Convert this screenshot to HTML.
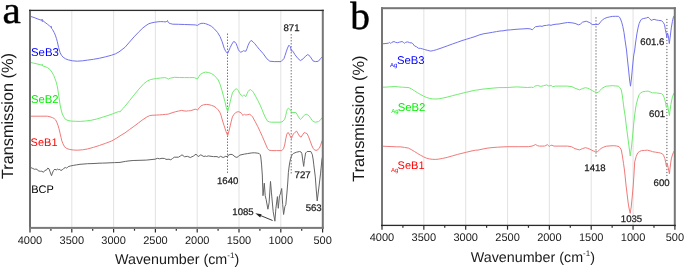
<!DOCTYPE html>
<html><head><meta charset="utf-8"><style>
html,body{margin:0;padding:0;background:#fff;}
svg{display:block;will-change:transform;text-rendering:geometricPrecision;}

</style></head><body>
<svg width="685" height="268" viewBox="0 0 685 268" font-family="Liberation Sans, sans-serif" fill="#1a1a1a">
<rect width="685" height="268" fill="#fff"/>
<line x1="71.80" y1="10.3" x2="71.80" y2="227.8" stroke="#e4e4e4" stroke-width="1.1"/>
<line x1="113.60" y1="10.3" x2="113.60" y2="227.8" stroke="#e4e4e4" stroke-width="1.1"/>
<line x1="155.40" y1="10.3" x2="155.40" y2="227.8" stroke="#e4e4e4" stroke-width="1.1"/>
<line x1="197.20" y1="10.3" x2="197.20" y2="227.8" stroke="#e4e4e4" stroke-width="1.1"/>
<line x1="239.00" y1="10.3" x2="239.00" y2="227.8" stroke="#e4e4e4" stroke-width="1.1"/>
<line x1="280.80" y1="10.3" x2="280.80" y2="227.8" stroke="#e4e4e4" stroke-width="1.1"/>
<g stroke="#555" stroke-width="1" stroke-dasharray="1.2,1.8">
<line x1="227.5" y1="33.6" x2="227.5" y2="174"/>
<line x1="291.2" y1="34.2" x2="291.2" y2="174.5"/>
</g>
<path d="M30.3,16.3 L34.0,17.5 L37.0,18.7 L40.0,19.8 L41.8,20.3 L42.1,19.2 L42.4,21.6 L42.8,20.6 L45.0,22.4 L47.4,24.2 L49.5,25.9 L51.0,27.2 L51.3,26.4 L51.6,28.4 L52.6,29.7 L54.1,32.4 L55.3,35.1 L56.4,38.4 L57.3,41.6 L58.6,47.5 L60.1,52.7 L61.5,55.3 L63.1,57.2 L65.5,58.8 L68.3,59.9 L72.5,60.8 L77.3,61.2 L82.5,60.8 L87.7,60.1 L93.5,59.3 L99.6,58.2 L105.6,56.8 L111.6,55.2 L115.5,53.8 L119.0,51.9 L122.0,49.6 L125.0,47.3 L129.5,42.1 L134.0,36.9 L138.5,32.2 L142.9,27.9 L145.9,25.6 L148.9,23.7 L151.9,22.8 L154.9,22.2 L157.9,21.8 L160.8,21.6 L163.5,21.7 L166.0,21.9 L166.8,21.3 L167.5,20.5 L168.1,22.2 L169.0,23.1 L170.8,23.7 L172.8,24.2 L178.7,24.3 L184.7,24.5 L190.0,24.7 L195.1,24.9 L197.4,25.4 L199.2,24.2 L201.1,23.4 L203.4,23.3 L205.6,23.7 L208.6,24.8 L211.6,26.4 L214.6,29.1 L217.5,32.4 L220.0,36.5 L222.0,41.3 L224.2,48.2 L225.8,51.6 L227.7,53.4 L230.2,47.5 L231.9,44.1 L233.6,41.5 L235.0,42.1 L236.2,43.7 L237.3,46.6 L238.4,49.7 L239.6,51.4 L240.7,52.2 L242.2,51.6 L243.6,50.7 L244.7,51.1 L245.9,51.2 L247.0,48.6 L248.1,45.2 L249.6,42.2 L251.1,40.4 L253.0,41.8 L254.8,43.7 L257.0,46.5 L259.3,49.3 L263.0,53.4 L266.8,58.7 L269.8,61.2 L274.2,61.6 L281.0,61.6 L283.9,58.7 L285.1,55.3 L286.2,51.9 L287.5,48.1 L288.9,45.2 L290.4,46.7 L291.4,51.2 L292.1,50.6 L292.9,51.2 L295.1,54.9 L298.1,58.7 L300.4,60.6 L303.3,58.7 L305.5,56.2 L307.8,54.5 L310.1,56.4 L313.0,60.9 L315.3,61.6 L318.3,61.3 L320.5,58.7 L322.4,56.8" fill="none" stroke="#7272ee" stroke-width="1"/>
<path d="M30.2,62.4 L33.5,63.1 L37.0,63.9 L40.0,64.7 L42.0,65.2 L42.3,64.3 L42.6,65.9 L45.0,66.6 L47.4,67.6 L49.8,69.3 L51.9,72.1 L53.8,75.6 L54.9,78.5 L56.0,81.4 L57.1,85.5 L57.9,89.9 L59.0,97.4 L60.1,104.9 L61.2,110.0 L62.3,114.0 L63.8,116.9 L65.3,119.2 L68.0,120.5 L71.3,121.1 L75.7,121.3 L80.2,121.4 L85.5,121.0 L90.7,120.4 L96.7,119.0 L102.6,117.2 L108.0,115.5 L113.1,113.7 L116.0,112.5 L118.3,111.7 L119.2,111.3 L119.8,112.2 L121.3,110.2 L123.2,108.4 L125.0,106.2 L129.8,100.3 L134.7,94.2 L139.0,89.0 L143.9,83.6 L147.2,81.1 L150.4,79.6 L153.4,79.0 L156.3,78.5 L160.5,78.0 L164.6,77.6 L166.4,78.0 L168.3,79.1 L170.5,78.1 L174.3,77.3 L179.5,77.5 L184.7,77.6 L189.5,77.6 L194.4,77.6 L197.4,79.1 L199.0,76.4 L200.4,74.3 L203.0,72.9 L205.6,72.1 L208.6,72.5 L211.6,73.6 L214.0,75.2 L216.0,77.3 L218.3,80.0 L220.2,84.6 L222.0,90.7 L223.5,96.3 L225.0,101.9 L226.3,107.5 L227.7,111.4 L229.0,107.0 L230.2,101.9 L231.3,97.2 L232.4,92.9 L234.2,90.3 L236.2,88.7 L237.3,89.4 L238.4,90.7 L239.9,93.7 L241.2,95.2 L242.6,96.2 L243.5,95.3 L244.4,95.1 L245.2,96.3 L245.9,96.6 L247.0,93.8 L248.1,91.4 L249.2,90.2 L250.4,89.6 L251.8,90.5 L253.3,92.2 L255.5,96.1 L257.8,100.4 L260.1,105.0 L262.0,109.5 L263.8,114.0 L265.6,117.8 L267.5,121.1 L269.4,121.9 L271.3,122.2 L276.0,122.2 L281.0,122.2 L283.0,121.2 L284.7,119.2 L285.7,115.7 L286.5,111.7 L287.4,109.3 L288.4,108.0 L289.4,108.8 L290.4,110.2 L291.2,111.5 L292.1,112.5 L294.0,112.5 L295.9,112.5 L297.0,114.2 L298.1,116.2 L299.2,118.0 L300.4,119.5 L301.8,118.2 L303.3,116.2 L304.8,114.9 L306.3,114.3 L307.8,114.9 L309.3,116.2 L310.8,118.4 L312.3,120.7 L313.8,121.7 L315.3,122.2 L318.3,121.7 L320.3,120.2 L322.2,117.5" fill="none" stroke="#72ec72" stroke-width="1"/>
<path d="M30.5,116.2 L35.0,116.2 L40.0,116.2 L47.4,116.2 L50.0,116.8 L52.6,117.7 L54.2,118.6 L55.6,119.9 L56.8,122.2 L57.9,125.1 L59.0,128.8 L60.1,133.4 L61.0,137.4 L61.8,140.8 L63.0,143.8 L64.6,146.9 L66.8,148.5 L69.8,149.5 L73.5,150.0 L77.3,150.2 L82.5,149.8 L87.7,148.9 L93.6,147.3 L99.6,145.4 L105.6,143.3 L111.6,141.0 L116.8,138.0 L122.0,134.6 L125.0,132.9 L129.5,129.5 L134.0,126.3 L138.5,122.9 L142.9,119.6 L146.2,117.4 L149.6,115.6 L152.9,115.2 L156.3,115.1 L159.3,114.9 L162.3,114.7 L165.3,114.4 L168.3,114.1 L172.0,112.8 L175.7,111.7 L178.7,111.0 L181.7,110.4 L184.0,110.9 L186.2,111.1 L188.5,110.8 L190.7,110.7 L193.0,109.9 L195.1,109.2 L196.3,109.4 L197.4,110.2 L199.2,107.8 L201.1,105.7 L203.7,104.8 L206.3,104.4 L209.0,104.7 L211.6,105.4 L214.0,106.3 L216.0,107.7 L218.0,109.7 L219.8,112.2 L221.0,115.2 L222.0,118.9 L223.0,122.2 L224.2,125.9 L226.0,131.5 L227.7,135.5 L229.0,131.0 L230.2,125.9 L231.3,121.2 L232.4,116.9 L233.9,114.5 L235.4,112.8 L236.9,112.0 L238.4,111.7 L240.0,112.2 L241.4,113.2 L242.2,114.3 L242.9,115.5 L243.6,114.6 L244.4,114.0 L245.2,114.8 L245.9,115.1 L247.8,114.6 L249.6,114.3 L251.1,115.3 L252.6,116.9 L255.2,121.6 L257.8,126.6 L260.0,131.3 L262.3,136.3 L264.2,140.8 L266.0,145.0 L267.5,148.5 L269.0,150.2 L271.9,150.6 L276.5,150.6 L281.8,150.6 L283.5,148.8 L284.7,145.0 L285.8,138.5 L286.9,134.1 L287.6,132.8 L288.4,132.6 L289.9,135.6 L291.4,138.6 L292.3,136.5 L293.3,134.1 L295.0,132.3 L296.6,131.1 L298.1,133.6 L299.6,136.3 L301.1,137.1 L302.6,134.8 L304.1,132.6 L305.6,133.0 L307.1,133.7 L308.6,136.8 L310.1,140.8 L311.6,145.0 L313.2,148.6 L315.0,150.2 L317.0,150.3 L319.3,148.3 L320.6,145.3 L322.1,140.5" fill="none" stroke="#f07a7a" stroke-width="1"/>
<path d="M30.2,167.3 L32.2,168.2 L34.5,169.3 L35.8,169.1 L37.1,169.3 L38.2,170.8 L40.4,171.3 L41.9,171.2 L43.4,172.3 L44.9,170.4 L46.4,170.1 L47.8,168.1 L49.0,168.8 L50.1,171.9 L51.5,175.7 L52.4,173.1 L53.5,170.4 L55.0,169.1 L56.1,170.1 L57.6,169.1 L58.7,169.7 L59.9,169.3 L60.6,170.4 L62.1,170.1 L64.0,168.2 L65.4,167.5 L66.6,168.2 L68.1,166.7 L70.3,166.0 L73.3,165.4 L76.3,164.9 L80.0,164.3 L84.0,164.0 L87.7,163.7 L92.0,163.6 L96.0,163.4 L99.0,163.2 L102.6,163.1 L106.0,163.0 L110.0,162.8 L114.6,162.6 L120.0,162.4 L125.3,161.4 L129.0,160.9 L133.1,160.5 L140.0,160.3 L146.3,160.1 L151.0,159.6 L155.0,159.2 L157.7,158.3 L159.4,158.8 L162.0,158.3 L164.7,158.5 L166.0,159.4 L169.0,159.2 L170.8,159.8 L172.5,158.5 L174.3,157.2 L178.5,157.2 L180.3,156.0 L182.0,154.8 L184.6,156.8 L187.3,156.3 L190.3,157.5 L193.4,156.1 L196.0,154.1 L198.2,156.6 L200.8,154.8 L203.9,156.6 L205.2,156.0 L206.5,156.5 L208.2,155.9 L210.0,156.2 L213.5,156.6 L217.0,156.6 L218.8,157.5 L220.5,156.3 L223.2,157.5 L225.8,156.3 L227.5,156.8 L228.4,155.0 L231.0,154.3 L232.8,154.8 L235.0,156.8 L236.9,157.4 L238.4,156.4 L239.9,155.1 L242.0,154.6 L244.4,154.1 L247.4,153.6 L251.9,152.9 L254.8,152.8 L257.8,153.2 L259.3,153.6 L260.1,154.4 L260.8,157.0 L261.6,164.9 L262.3,175.0 L263.0,195.7 L264.3,183.2 L265.2,195.7 L266.1,199.3 L267.9,209.2 L269.1,202.9 L270.5,181.4 L271.4,192.1 L273.2,211.8 L274.9,221.2 L275.9,208.3 L277.4,196.6 L278.3,208.3 L279.5,195.7 L280.4,193.9 L281.7,188.5 L282.7,204.7 L283.6,214.5 L284.9,206.5 L285.8,204.7 L287.0,192.0 L287.8,182.0 L288.4,172.4 L289.2,166.0 L289.9,161.9 L290.6,158.5 L291.4,156.0 L292.5,154.3 L293.7,153.3 L296.6,152.2 L299.6,151.5 L301.1,152.0 L301.9,153.7 L302.6,159.0 L303.7,166.4 L304.4,160.4 L305.6,153.0 L307.1,151.5 L310.8,151.5 L312.3,154.5 L313.1,159.0 L313.8,164.9 L315.3,176.9 L316.2,189.0 L317.2,201.0 L318.2,193.0 L319.3,184.0 L320.5,173.9 L322.0,159.0 L322.8,156.0" fill="none" stroke="#656565" stroke-width="1"/>
<rect x="29" y="9.7" width="2" height="219.2" fill="#6e6e6e"/>
<rect x="321.8" y="9.7" width="2" height="219.2" fill="#767676"/>
<rect x="29" y="226.9" width="294.8" height="2" fill="#7a7a7a"/>
<rect x="29" y="9.75" width="294.8" height="1.3" fill="#2e2e2e"/>
<line x1="30.00" y1="228.9" x2="30.00" y2="232.5" stroke="#2a2a2a" stroke-width="1.2"/>
<text x="30.00" y="243.9" text-anchor="middle" font-size="11">4000</text>
<line x1="50.90" y1="228.9" x2="50.90" y2="230.70000000000002" stroke="#2a2a2a" stroke-width="1.2"/>
<line x1="71.80" y1="228.9" x2="71.80" y2="232.5" stroke="#2a2a2a" stroke-width="1.2"/>
<text x="71.80" y="243.9" text-anchor="middle" font-size="11">3500</text>
<line x1="92.70" y1="228.9" x2="92.70" y2="230.70000000000002" stroke="#2a2a2a" stroke-width="1.2"/>
<line x1="113.60" y1="228.9" x2="113.60" y2="232.5" stroke="#2a2a2a" stroke-width="1.2"/>
<text x="113.60" y="243.9" text-anchor="middle" font-size="11">3000</text>
<line x1="134.50" y1="228.9" x2="134.50" y2="230.70000000000002" stroke="#2a2a2a" stroke-width="1.2"/>
<line x1="155.40" y1="228.9" x2="155.40" y2="232.5" stroke="#2a2a2a" stroke-width="1.2"/>
<text x="155.40" y="243.9" text-anchor="middle" font-size="11">2500</text>
<line x1="176.30" y1="228.9" x2="176.30" y2="230.70000000000002" stroke="#2a2a2a" stroke-width="1.2"/>
<line x1="197.20" y1="228.9" x2="197.20" y2="232.5" stroke="#2a2a2a" stroke-width="1.2"/>
<text x="197.20" y="243.9" text-anchor="middle" font-size="11">2000</text>
<line x1="218.10" y1="228.9" x2="218.10" y2="230.70000000000002" stroke="#2a2a2a" stroke-width="1.2"/>
<line x1="239.00" y1="228.9" x2="239.00" y2="232.5" stroke="#2a2a2a" stroke-width="1.2"/>
<text x="239.00" y="243.9" text-anchor="middle" font-size="11">1500</text>
<line x1="259.90" y1="228.9" x2="259.90" y2="230.70000000000002" stroke="#2a2a2a" stroke-width="1.2"/>
<line x1="280.80" y1="228.9" x2="280.80" y2="232.5" stroke="#2a2a2a" stroke-width="1.2"/>
<text x="280.80" y="243.9" text-anchor="middle" font-size="11">1000</text>
<line x1="301.70" y1="228.9" x2="301.70" y2="230.70000000000002" stroke="#2a2a2a" stroke-width="1.2"/>
<line x1="322.60" y1="228.9" x2="322.60" y2="232.5" stroke="#2a2a2a" stroke-width="1.2"/>
<text x="322.60" y="243.9" text-anchor="middle" font-size="11">500</text>
<line x1="423.84" y1="8.1" x2="423.84" y2="225.4" stroke="#e4e4e4" stroke-width="1.1"/>
<line x1="465.69" y1="8.1" x2="465.69" y2="225.4" stroke="#e4e4e4" stroke-width="1.1"/>
<line x1="507.53" y1="8.1" x2="507.53" y2="225.4" stroke="#e4e4e4" stroke-width="1.1"/>
<line x1="549.37" y1="8.1" x2="549.37" y2="225.4" stroke="#e4e4e4" stroke-width="1.1"/>
<line x1="591.21" y1="8.1" x2="591.21" y2="225.4" stroke="#e4e4e4" stroke-width="1.1"/>
<line x1="633.06" y1="8.1" x2="633.06" y2="225.4" stroke="#e4e4e4" stroke-width="1.1"/>
<g stroke="#555" stroke-width="1" stroke-dasharray="1.2,1.8">
<line x1="596.0" y1="17.3" x2="596.0" y2="156.8"/>
<line x1="666.9" y1="18.9" x2="666.9" y2="178.3"/>
</g>
<path d="M382.4,43.8 L385.0,43.6 L388.4,43.2 L389.6,42.3 L390.7,43.5 L391.9,42.3 L394.0,41.5 L395.5,42.3 L397.3,42.7 L399.7,42.1 L402.1,41.5 L403.3,42.3 L404.5,43.3 L405.7,42.3 L407.5,41.9 L409.3,42.4 L409.9,43.1 L411.0,42.6 L412.8,43.6 L414.6,46.0 L416.4,46.7 L418.5,48.3 L420.3,48.3 L422.5,48.9 L424.8,49.6 L427.8,50.4 L430.7,51.1 L433.7,50.5 L436.7,49.6 L442.0,47.8 L447.2,45.9 L452.4,44.0 L457.6,42.2 L462.0,40.6 L466.6,39.2 L470.3,38.0 L474.0,36.9 L477.0,35.8 L480.0,34.7 L484.0,33.7 L488.0,33.1 L492.5,32.3 L496.5,31.6 L500.0,31.0 L503.0,30.8 L507.0,30.1 L510.2,29.9 L514.0,29.5 L519.0,29.1 L523.0,28.9 L527.0,28.6 L530.0,28.8 L532.4,29.8 L533.5,28.5 L535.5,26.7 L538.0,26.4 L540.0,26.0 L542.0,26.4 L544.0,25.6 L546.5,25.4 L549.0,24.9 L551.0,25.3 L553.0,24.7 L556.0,24.2 L559.0,24.0 L562.0,23.4 L565.0,22.9 L567.6,22.5 L570.0,22.6 L573.0,23.0 L575.0,23.4 L578.7,24.9 L580.5,24.0 L582.5,22.2 L586.2,21.2 L589.9,22.7 L592.2,24.5 L595.9,24.6 L598.9,24.2 L600.7,21.8 L602.6,19.7 L604.8,18.4 L607.1,17.5 L609.7,16.9 L612.3,16.4 L615.3,16.3 L618.3,16.3 L619.5,17.2 L620.5,19.0 L621.7,22.2 L622.8,26.4 L624.0,32.5 L625.0,39.9 L626.5,50.0 L627.5,60.0 L628.6,70.0 L629.6,80.0 L630.5,86.2 L631.5,78.0 L632.5,67.0 L633.6,56.0 L634.7,50.0 L635.7,42.0 L636.9,33.9 L638.0,28.0 L639.2,23.4 L640.3,21.0 L641.4,19.3 L643.2,18.6 L645.1,18.2 L646.6,17.9 L648.1,17.2 L649.6,18.5 L651.1,20.4 L652.6,19.8 L654.1,19.3 L656.3,20.0 L658.6,20.4 L661.6,20.7 L663.3,22.5 L664.6,24.9 L665.3,29.4 L666.3,33.9 L666.8,37.2 L667.5,33.0 L668.3,35.6 L668.9,40.0 L669.3,43.6 L670.3,36.0 L671.3,27.9 L672.4,21.5 L673.5,16.7 L674.6,15.3" fill="none" stroke="#7272ee" stroke-width="1"/>
<path d="M382.8,87.2 L386.0,87.1 L389.0,86.9 L392.0,86.7 L394.9,86.5 L398.5,86.9 L402.4,87.2 L406.0,87.4 L409.1,87.7 L411.7,89.0 L414.3,90.7 L417.3,92.6 L420.3,94.4 L423.3,96.0 L426.3,97.4 L429.3,98.3 L432.2,98.9 L435.2,99.0 L438.2,98.9 L442.7,98.1 L447.2,97.1 L452.4,95.7 L457.6,94.4 L462.0,93.3 L466.6,92.2 L471.0,91.1 L475.5,90.2 L478.0,89.9 L482.0,89.2 L487.0,88.7 L493.0,88.1 L498.9,87.6 L503.0,87.6 L507.9,87.5 L512.0,87.2 L516.8,86.9 L522.0,87.2 L527.3,87.5 L531.7,87.2 L533.2,87.6 L534.7,86.1 L537.7,85.5 L540.7,86.4 L543.7,85.7 L546.7,84.9 L548.9,86.1 L551.1,85.4 L552.6,86.7 L555.6,86.1 L561.0,86.1 L567.6,86.1 L572.0,86.7 L575.0,88.2 L579.5,89.9 L582.5,88.6 L585.4,87.7 L587.7,88.2 L589.9,89.2 L592.2,90.6 L594.4,91.7 L596.3,92.3 L598.1,92.6 L600.0,90.5 L601.9,88.4 L604.0,87.2 L606.3,86.2 L609.3,85.9 L612.3,85.7 L615.3,85.9 L618.3,86.2 L619.8,87.5 L621.3,89.9 L622.4,96.0 L623.5,104.9 L624.2,110.0 L625.0,115.0 L626.2,125.0 L627.5,135.0 L628.8,145.0 L630.2,155.9 L631.5,147.0 L632.7,135.0 L633.7,124.0 L634.7,115.0 L635.5,109.0 L636.2,104.9 L637.7,99.0 L639.2,94.4 L641.0,92.7 L642.9,91.7 L645.5,91.3 L648.1,91.1 L650.3,92.0 L652.6,92.9 L656.3,92.9 L659.0,93.3 L661.6,93.7 L663.2,95.2 L664.2,97.7 L665.0,100.5 L665.7,103.7 L666.4,107.4 L667.5,104.4 L668.2,108.9 L669.4,115.6 L670.1,110.0 L670.9,104.4 L672.4,96.9 L673.9,93.2 L674.8,92.3" fill="none" stroke="#72ec72" stroke-width="1"/>
<path d="M382.8,146.2 L387.0,146.4 L391.9,146.6 L396.5,146.8 L400.9,146.9 L404.5,147.4 L408.4,148.1 L411.3,149.6 L414.3,151.4 L417.3,153.3 L420.3,155.1 L423.3,156.7 L426.3,158.1 L429.3,158.9 L432.2,159.3 L435.2,159.4 L438.2,159.2 L442.7,158.4 L447.2,157.4 L452.4,155.9 L457.6,154.4 L462.0,153.3 L466.6,152.2 L471.0,151.1 L475.5,150.2 L478.0,150.1 L482.0,149.2 L487.0,148.2 L492.0,147.6 L497.4,147.2 L503.0,146.9 L507.9,146.7 L513.0,146.7 L518.3,146.7 L523.0,146.7 L528.7,146.7 L531.0,146.3 L533.2,145.7 L535.5,144.5 L537.3,145.6 L539.2,146.1 L542.0,146.1 L544.4,146.1 L546.0,145.5 L547.4,144.5 L548.3,145.6 L549.3,146.4 L550.6,145.5 L551.9,145.2 L553.0,145.8 L554.1,146.1 L560.0,146.1 L567.6,146.1 L571.3,146.7 L573.2,147.6 L575.0,148.7 L579.5,149.9 L582.5,148.6 L585.4,147.7 L587.7,148.3 L589.9,149.2 L591.8,150.2 L593.7,151.1 L595.5,151.6 L597.4,151.7 L599.3,150.0 L601.1,148.4 L603.7,147.1 L606.3,146.2 L610.0,145.9 L613.8,145.7 L616.5,146.0 L619.0,146.6 L620.2,148.0 L621.3,149.9 L622.4,156.0 L623.5,163.4 L624.3,169.0 L625.0,175.0 L626.0,185.0 L627.1,194.0 L628.2,203.0 L629.2,209.0 L630.2,213.3 L631.2,207.0 L632.2,197.0 L633.2,186.0 L634.0,174.0 L634.7,161.9 L636.2,156.5 L637.7,152.9 L639.5,151.5 L641.4,150.7 L644.4,150.4 L647.4,150.2 L650.0,150.8 L652.6,151.7 L655.6,152.2 L658.6,152.6 L660.5,153.1 L662.3,153.7 L663.5,155.2 L664.9,158.7 L665.7,162.5 L666.4,166.1 L667.2,163.6 L668.2,167.6 L669.4,173.8 L670.3,166.0 L671.3,158.9 L672.4,155.0 L673.5,152.2 L674.6,150.4" fill="none" stroke="#f07a7a" stroke-width="1"/>
<rect x="381" y="7.2" width="2" height="219" fill="#767676"/>
<rect x="673.8" y="7.2" width="2" height="219" fill="#767676"/>
<rect x="381" y="7.2" width="294.8" height="2" fill="#767676"/>
<rect x="381" y="224.75" width="294.8" height="1.3" fill="#2a2a2a"/>
<line x1="382.00" y1="226" x2="382.00" y2="229.7" stroke="#2a2a2a" stroke-width="1.2"/>
<text x="382.00" y="241.3" text-anchor="middle" font-size="11">4000</text>
<line x1="402.92" y1="226" x2="402.92" y2="227.8" stroke="#2a2a2a" stroke-width="1.2"/>
<line x1="423.84" y1="226" x2="423.84" y2="229.7" stroke="#2a2a2a" stroke-width="1.2"/>
<text x="423.84" y="241.3" text-anchor="middle" font-size="11">3500</text>
<line x1="444.76" y1="226" x2="444.76" y2="227.8" stroke="#2a2a2a" stroke-width="1.2"/>
<line x1="465.69" y1="226" x2="465.69" y2="229.7" stroke="#2a2a2a" stroke-width="1.2"/>
<text x="465.69" y="241.3" text-anchor="middle" font-size="11">3000</text>
<line x1="486.61" y1="226" x2="486.61" y2="227.8" stroke="#2a2a2a" stroke-width="1.2"/>
<line x1="507.53" y1="226" x2="507.53" y2="229.7" stroke="#2a2a2a" stroke-width="1.2"/>
<text x="507.53" y="241.3" text-anchor="middle" font-size="11">2500</text>
<line x1="528.45" y1="226" x2="528.45" y2="227.8" stroke="#2a2a2a" stroke-width="1.2"/>
<line x1="549.37" y1="226" x2="549.37" y2="229.7" stroke="#2a2a2a" stroke-width="1.2"/>
<text x="549.37" y="241.3" text-anchor="middle" font-size="11">2000</text>
<line x1="570.29" y1="226" x2="570.29" y2="227.8" stroke="#2a2a2a" stroke-width="1.2"/>
<line x1="591.21" y1="226" x2="591.21" y2="229.7" stroke="#2a2a2a" stroke-width="1.2"/>
<text x="591.21" y="241.3" text-anchor="middle" font-size="11">1500</text>
<line x1="612.14" y1="226" x2="612.14" y2="227.8" stroke="#2a2a2a" stroke-width="1.2"/>
<line x1="633.06" y1="226" x2="633.06" y2="229.7" stroke="#2a2a2a" stroke-width="1.2"/>
<text x="633.06" y="241.3" text-anchor="middle" font-size="11">1000</text>
<line x1="653.98" y1="226" x2="653.98" y2="227.8" stroke="#2a2a2a" stroke-width="1.2"/>
<line x1="674.90" y1="226" x2="674.90" y2="229.7" stroke="#2a2a2a" stroke-width="1.2"/>
<text x="674.90" y="241.3" text-anchor="middle" font-size="11">500</text>
<g font-size="11">
<text x="31" y="55.7" fill="#0000ff" font-size="11.4">SeB3</text>
<text x="31" y="102.8" fill="#00f000" font-size="11.3">SeB2</text>
<text x="30.6" y="145.7" fill="#ff0000">SeB1</text>
<text x="31.2" y="192.7" fill="#000">BCP</text>
</g>
<g font-size="9.6" fill="#222" stroke="#222" stroke-width="0.25">
<text x="283.5" y="31.4">871</text>
<text x="217" y="184.3">1640</text>
<text x="294.6" y="177.8">727</text>
<text x="232.3" y="214.9">1085</text>
<text x="305.7" y="210.7">563</text>
</g>
<line x1="272.6" y1="220.5" x2="259" y2="214.9" stroke="#222" stroke-width="0.9"/>
<path d="M255.3,213.3 L261.6,214.3 L260.2,217.6 Z" fill="#222"/>
<g font-size="11.3">
<text x="397" y="64.3" fill="#0000ff">SeB3</text>
<text x="397.7" y="110.5" fill="#00f000">SeB2</text>
<text x="397.6" y="169.1" fill="#ff0000" font-size="11">SeB1</text>
</g>
<g font-size="6">
<text x="390" y="67.4" fill="#0000ff">Ag</text>
<text x="391.3" y="113.3" fill="#00f000">Ag</text>
<text x="391" y="171.6" fill="#ff0000">Ag</text>
</g>
<g font-size="9.6" fill="#222" stroke="#222" stroke-width="0.25">
<text x="640.3" y="45.3">601.6</text>
<text x="649.1" y="117.1">601</text>
<text x="584.3" y="170.9">1418</text>
<text x="653.6" y="186.3">600</text>
<text x="620.8" y="222.1">1035</text>
</g>
<text x="115" y="264" font-size="14.3">Wavenumber (cm<tspan font-size="8" dy="-6">-1</tspan><tspan dy="6">)</tspan></text>
<text x="470.8" y="261.5" font-size="14.3">Wavenumber (cm<tspan font-size="8" dy="-6">-1</tspan><tspan dy="6">)</tspan></text>
<text transform="translate(13,179.1) rotate(-90)" font-size="16.3">Transmission (%)</text>
<text transform="translate(364,181.7) rotate(-90)" font-size="16.3">Transmission (%)</text>
<text x="0" y="0" transform="translate(2.5,23.3) scale(1.07,1)" font-family="Liberation Serif" font-size="38.5" stroke="#000" stroke-width="0.45" fill="#000">a</text>
<text x="350.2" y="28.8" font-family="Liberation Serif" font-size="39.4" stroke="#000" stroke-width="0.45" fill="#000">b</text>
</svg>
</body></html>
